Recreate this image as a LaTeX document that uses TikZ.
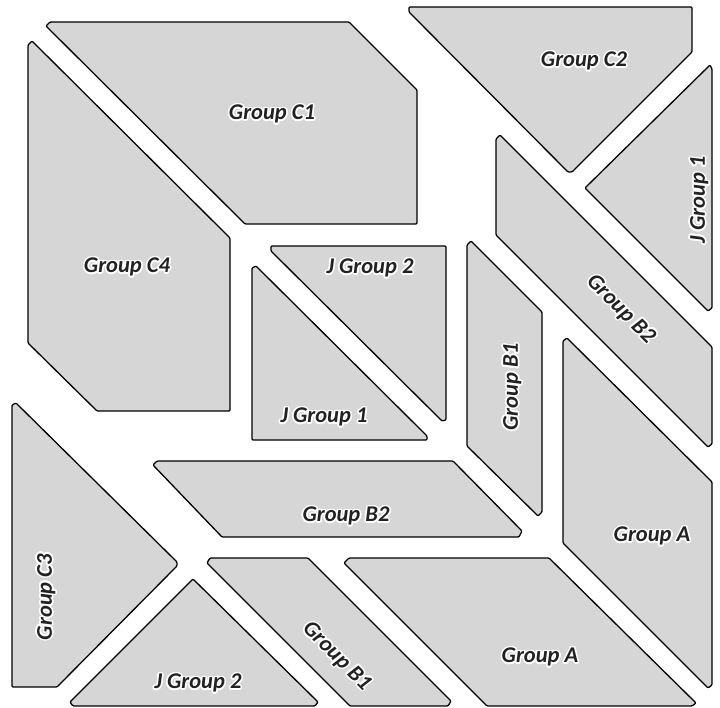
\documentclass[tikz,border=0pt]{standalone}
\usepackage{fontspec}
\setmainfont{Carlito}
\usepackage{xcolor}
\usepackage{contour}
\contourlength{1.6pt}
\usepackage{tikz}
\definecolor{piecegray}{HTML}{D6D6D6}
\definecolor{labelgray}{HTML}{222222}
\tikzset{
  piece/.style={
    draw=black, line width=1.3pt, fill=piecegray,
    line join=round, rounded corners=1pt,
  },
  lbl/.style={font=\fontsize{22.5}{22.5}\selectfont\bfseries\itshape, text=labelgray, inner sep=0pt},
}
\newcommand{\grp}[1]{\contour{white}{#1}}

\begin{document}
\begin{tikzpicture}[x=1pt, y=-1pt]
  \useasboundingbox (0,0) rectangle (720,708);

  % Top row: C1, C2 and the right J piece
  \draw[piece] (50,22) -- (349,22) -- (417,90) -- (417,224) -- (245,224) -- (46,26) -- cycle;
  \draw[piece] (409,7) -- (692,7) -- (692,52) -- (572,172) -- (568,172) -- (409,12) -- cycle;
  \draw[piece] (710,65) -- (712,69) -- (712,308) -- (708,311) -- (585,188) -- cycle;

  % Left column: C4 and C3
  \draw[piece] (32,41) -- (230,238) -- (230,411) -- (97,411) -- (28,343) -- (28,45) -- cycle;
  \draw[piece] (12,405) -- (16,403) -- (177,562) -- (177,566) -- (57,687) -- (12,687) -- cycle;

  % Centre: the two J triangles and B1
  \draw[piece] (271,246) -- (446,246) -- (446,420) -- (442,421) -- (271,251) -- cycle;
  \draw[piece] (252,268) -- (256,266) -- (427,436) -- (427,440) -- (252,440) -- cycle;
  \draw[piece] (467,245) -- (471,241) -- (542,312) -- (542,512) -- (538,516) -- (467,446) -- cycle;

  % Right column: B2 and A
  \draw[piece] (496,139) -- (500,135) -- (712,347) -- (712,444) -- (708,447) -- (496,235) -- cycle;
  \draw[piece] (563,341) -- (567,338) -- (712,482) -- (712,685) -- (708,688) -- (563,543) -- cycle;

  % Bottom rows: B2, B1, J2 and A
  \draw[piece] (153,465) -- (157,461) -- (453,461) -- (522,531) -- (519,537) -- (222,537) -- cycle;
  \draw[piece] (207,563) -- (210,558) -- (308,558) -- (451,701) -- (448,706) -- (350,706) -- cycle;
  \draw[piece] (193,579) -- (318,702) -- (315,706) -- (73,706) -- (70,702) -- cycle;
  \draw[piece] (344,563) -- (349,558) -- (549,558) -- (696,703) -- (692,706) -- (487,706) -- cycle;

  % Labels
  \node[lbl] (c1)  at (272,115) {\grp{Group C1}};
  \node[lbl] (c2)  at (584,62)  {\grp{Group C2}};
  \node[lbl, rotate=90] (j1r) at (700,200) {\grp{J Group 1}};
  \node[lbl] (c4)  at (127,268) {\grp{Group C4}};
  \node[lbl] (j2c) at (370,269) {\grp{J Group 2}};
  \node[lbl] (j1c) at (324,418) {\grp{J Group 1}};
  \node[lbl, rotate=90] (b1c) at (513,387) {\grp{Group B1}};
  \node[lbl, rotate=-45] (b2r) at (620,310) {\grp{Group B2}};
  \node[lbl] (ar)  at (652,537) {\grp{Group A}};
  \node[lbl] (b2b) at (346,517) {\grp{Group B2}};
  \node[lbl, rotate=90] (c3) at (47,597) {\grp{Group C3}};
  \node[lbl] (j2b) at (198,684) {\grp{J Group 2}};
  \node[lbl, rotate=-45] (b1b) at (336,657) {\grp{Group B1}};
  \node[lbl] (ab)  at (540,658) {\grp{Group A}};

\end{tikzpicture}
\end{document}
